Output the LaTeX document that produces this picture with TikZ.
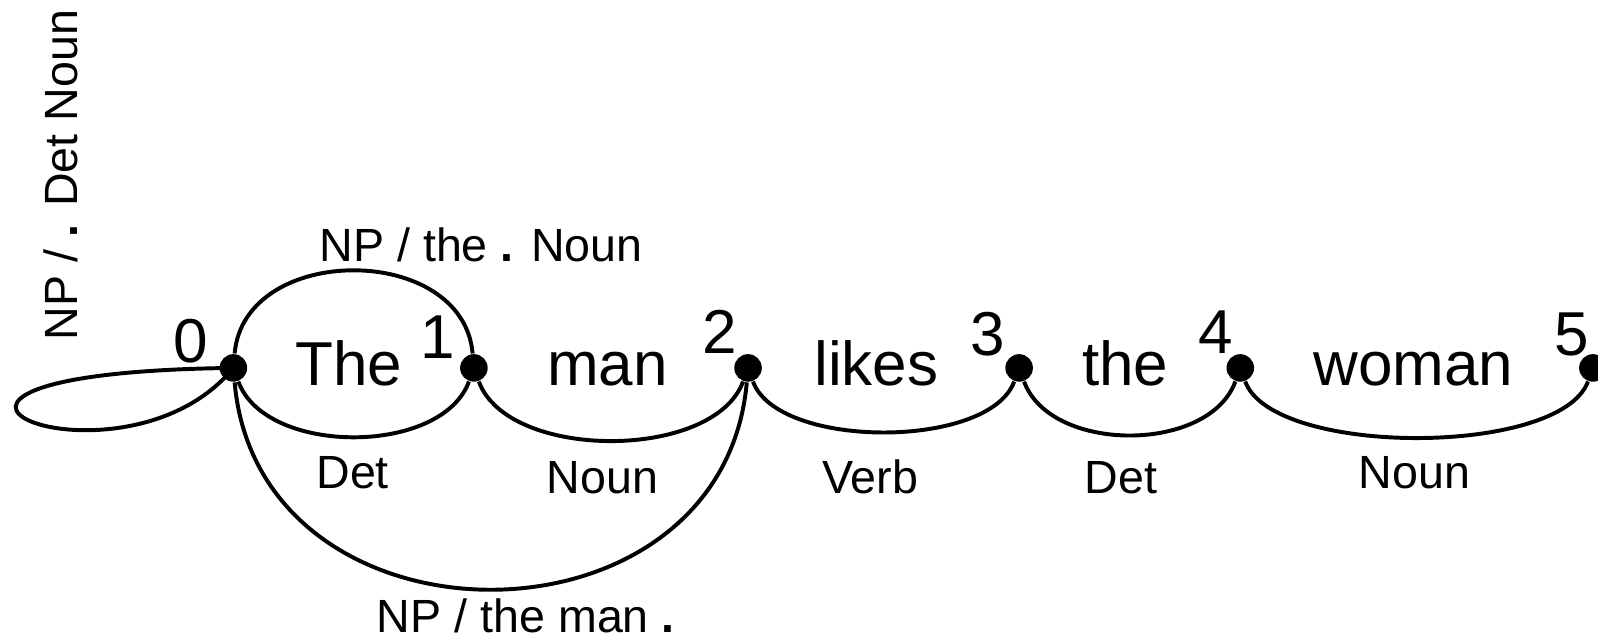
\documentclass[tikz,border=0pt]{standalone}
\usepackage{fontspec}
\setmainfont{Liberation Sans}
\usepackage{tikz}

\begin{document}
\begin{tikzpicture}[x=0.01cm,y=0.01cm,
    dot/.style={circle,fill=black,inner sep=0pt,minimum size=0.27cm},
    word/.style={font=\fontsize{17.3}{20}\selectfont,anchor=base},
    num/.style={font=\fontsize{17.3}{20}\selectfont},
    lbl/.style={font=\fontsize{13}{15}\selectfont,anchor=base},
    edge/.style={line width=1.1pt},
    arc/.style={edge,out=-70,in=-110}]
  \useasboundingbox (0,0) rectangle (1568,-629);
  % chart positions
  \node[dot] (n0) at (229,-361) {};
  \node[dot] (n1) at (465,-361) {};
  \node[dot] (n2) at (734,-361) {};
  \node[dot] (n3) at (1000,-361) {};
  \node[dot] (n4) at (1217,-361) {};
  \node[dot] (n5) at (1563,-361) {};
  \node[num] (p0) at (187,-335) {0};
  \node[num] (p1) at (430,-331) {1};
  \node[num] (p2) at (706,-326) {2};
  \node[num] (p3) at (969,-328) {3};
  \node[num] (p4) at (1193,-326) {4};
  \node[num] (p5) at (1542,-328) {5};
  % words
  \node[word] (w1) at (342,-378) {The};
  \node[word] (w2) at (596,-378) {man};
  \node[word] (w3) at (860,-378) {likes};
  \node[word] (w4) at (1104,-378) {the};
  \node[word] (w5) at (1387,-378) {woman};
  % lexical edges
  \draw[arc,looseness=0.88] (n0) to (n1);
  \draw[arc,looseness=0.82] (n1) to (n2);
  \draw[arc,looseness=0.71] (n2) to (n3);
  \draw[arc,looseness=0.93] (n3) to (n4);
  \draw[arc,looseness=0.6] (n4) to (n5);
  \node[lbl] (l1) at (346,-479) {Det};
  \node[lbl] (l2) at (591,-484) {Noun};
  \node[lbl] (l3) at (854,-484) {Verb};
  \node[lbl] (l4) at (1100,-484) {Det};
  \node[lbl] (l5) at (1388,-479) {Noun};
  % active edges
  \draw[edge] (n0) to[out=85,in=95,looseness=1.2] (n1);
  \draw[edge] (n0) to[out=-85,in=-95,looseness=1.39] (n2);
  \draw[edge] (n0.center) .. controls +(-420,-5) and +(-110,-135) .. (n0.center);
  \node[lbl] (a1) at (472,-257) {NP / the \textbf{.} Noun};
  \node[lbl] (a2) at (516,-621) {NP / the man \textbf{.}};
  \node[lbl,rotate=90] (a0) at (76,-172) {NP / \textbf{.} Det Noun};
\end{tikzpicture}
\end{document}
